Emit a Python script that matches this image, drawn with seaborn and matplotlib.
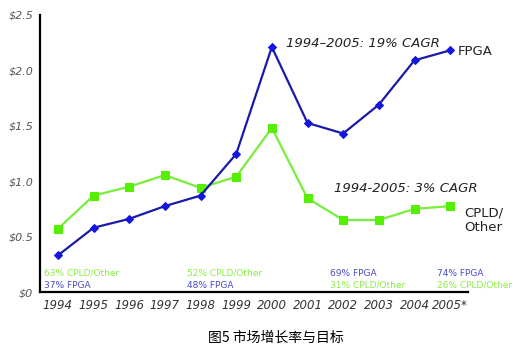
import numpy as np
import pandas as pd
import matplotlib
matplotlib.use("Agg")
import matplotlib.pyplot as plt
import seaborn as sns

years = ["1994", "1995", "1996", "1997", "1998", "1999",
         "2000", "2001", "2002", "2003", "2004", "2005*"]
fpga = [0.33, 0.58, 0.66, 0.775, 0.87, 1.245, 2.21, 1.525, 1.43, 1.69, 2.09, 2.18]
cpld = [0.57, 0.87, 0.95, 1.055, 0.94, 1.04, 1.48, 0.845, 0.65, 0.65, 0.75, 0.775]
y_ticks = [0, 0.5, 1.0, 1.5, 2.0, 2.5]
y_labels = ["$0", "$0.5", "$1.0", "$1.5", "$2.0", "$2.5"]

# share notes below the lines: (year index, top text, bottom text, top is fpga?)
share_notes = [
    (0, "63% CPLD/Other", "37% FPGA", False),
    (4, "52% CPLD/Other", "48% FPGA", False),
    (8, "69% FPGA", "31% CPLD/Other", True),
    (11, "74% FPGA", "26% CPLD/Other", True),
]

BLUE_LINE = "#1a1aa8"
BLUE_MARK = "#1515e0"
GREEN_LINE = "#77ee3c"
GREEN_MARK = "#55f000"
BLUE_TXT = "#4a4ac8"
GREEN_TXT = "#88ee44"

sns.set_style("white")
plt.rcParams["font.family"] = ["DejaVu Sans", "Noto Sans CJK SC"]

df = pd.DataFrame({"year": years, "FPGA": fpga, "CPLD": cpld})

fig = plt.figure(figsize=(5.2, 3.54), dpi=100)
ax = fig.add_axes([0.077, 0.175, 0.823, 0.783])

sns.lineplot(data=df, x="year", y="CPLD", ax=ax, color=GREEN_LINE, lw=1.6,
             marker="s", markersize=6, markerfacecolor=GREEN_MARK,
             markeredgecolor=GREEN_MARK, sort=False)
sns.lineplot(data=df, x="year", y="FPGA", ax=ax, color=BLUE_LINE, lw=1.6,
             marker="D", markersize=4.5, markerfacecolor=BLUE_MARK,
             markeredgecolor=BLUE_MARK, sort=False)

n = len(years)
ax.set_xlim(-0.5, n - 0.5)
ax.set_ylim(0, 2.5)
ax.set_xlabel("")
ax.set_ylabel("")

# boundaries as tick marks, year labels centred in between
ax.set_xticks(np.arange(-0.5, n, 1.0))
ax.set_xticklabels([])
ax.set_xticks(np.arange(n), minor=True)
ax.set_xticklabels(years, minor=True, fontstyle="italic", fontsize=8.5,
                   color="#333333")
ax.tick_params(axis="x", which="major", direction="out", length=4, width=1.2,
               color="black")
ax.tick_params(axis="x", which="minor", length=0, pad=5)

ax.set_yticks(y_ticks)
ax.set_yticklabels(y_labels, fontstyle="italic", fontsize=8, color="#555555")
ax.tick_params(axis="y", direction="out", length=3, width=1.2, color="black", pad=2)

for side in ["top", "right"]:
    ax.spines[side].set_visible(False)
for side in ["left", "bottom"]:
    ax.spines[side].set_color("black")
    ax.spines[side].set_linewidth(1.6)

# annotations next to the lines
ax.text(6.4, 2.24, "1994–2005: 19% CAGR", fontstyle="italic", fontsize=9.5,
        color="#222222", va="center")
ax.text(11.2, 2.17, "FPGA", fontsize=9.5, color="#222222", va="center")
ax.text(7.75, 0.93, "1994-2005: 3% CAGR", fontstyle="italic", fontsize=9.5,
        color="#222222", va="center")
ax.text(11.4, 0.77, "CPLD/\nOther", fontsize=9.5, color="#222222", va="top",
        linespacing=1.1)

for idx, top, bottom, top_fpga in share_notes:
    top_col = BLUE_TXT if top_fpga else GREEN_TXT
    bot_col = GREEN_TXT if top_fpga else BLUE_TXT
    ax.text(idx - 0.38, 0.17, top, fontsize=6.5, color=top_col, va="center")
    ax.text(idx - 0.38, 0.06, bottom, fontsize=6.5, color=bot_col, va="center")

fig.text(0.531, 0.045, "图5 市场增长率与目标", fontsize=10, color="black",
         ha="center", va="center",
         family=["Noto Sans CJK SC", "DejaVu Sans"])

fig.savefig("out.png", dpi=100)
